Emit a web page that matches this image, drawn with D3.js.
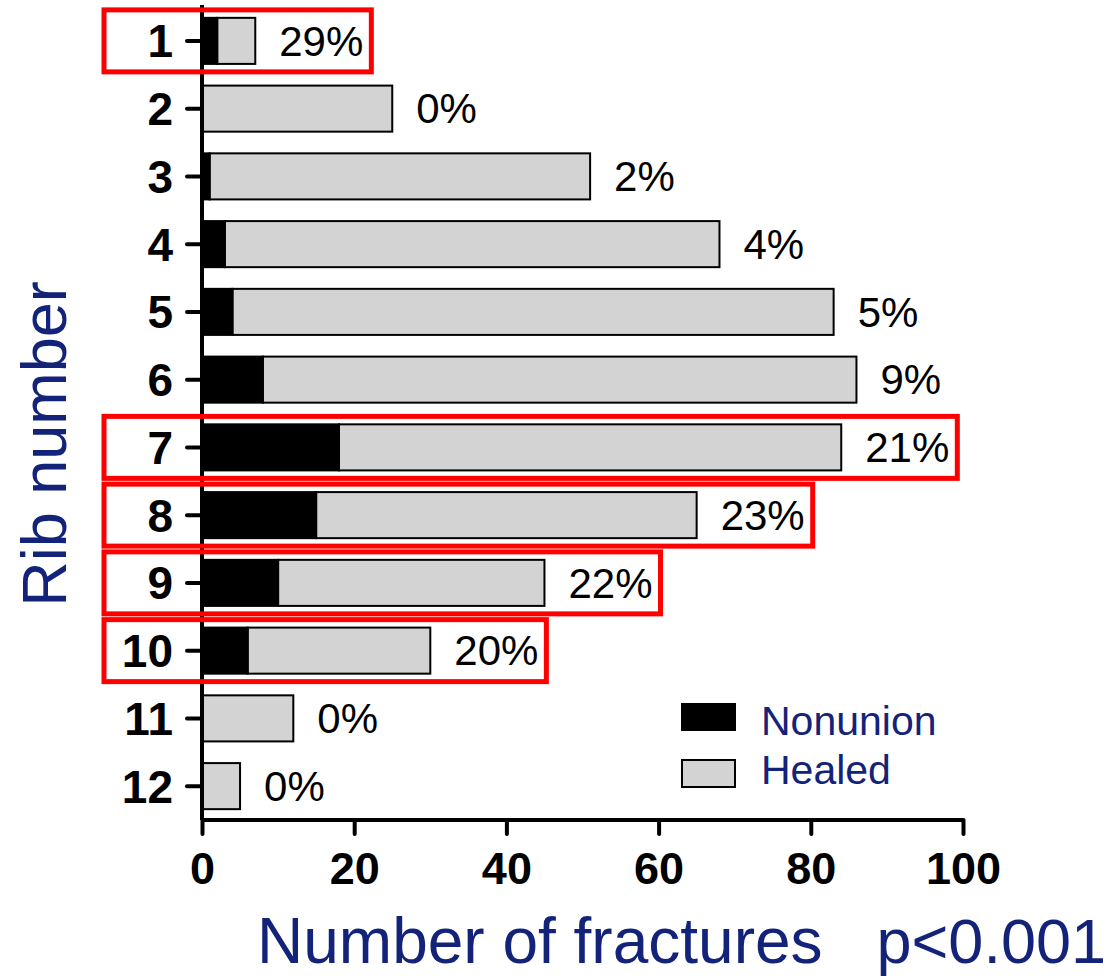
<!DOCTYPE html>
<html>
<head>
<meta charset="utf-8">
<script src="https://cdn.jsdelivr.net/npm/d3@7"></script>
<style>
  body { margin: 0; background: #fff; }
  svg { display: block; font-family: Arial, "Liberation Sans", sans-serif; }
</style>
</head>
<body>
<div id="chart"></div>
<script>
// rib numbers, nonunion count, total fractures, label text
const ribs = ["1", "2", "3", "4", "5", "6", "7", "8", "9", "10", "11", "12"];
const nonunion = [2, 0, 1, 3, 4, 8, 18, 15, 10, 6, 0, 0];
const totals = [7, 25, 51, 68, 83, 86, 84, 65, 45, 30, 12, 5];
const pctLabels = ["29%", "0%", "2%", "4%", "5%", "9%", "21%", "23%", "22%", "20%", "0%", "0%"];
const xTicks = [0, 20, 40, 60, 80, 100];
const highlighted = ["1", "7", "8", "9", "10"];

const width = 1109;
const height = 978;
const navy = "#14237a";

const rows = ribs.map((rib, i) => ({
  rib,
  nonunion: nonunion[i],
  total: totals[i],
  label: pctLabels[i],
}));

const svg = d3
  .select("#chart")
  .append("svg")
  .attr("width", width)
  .attr("height", height);

const x = d3.scaleLinear().domain([0, 100]).range([202, 963]);
const y = d3
  .scaleBand()
  .domain(ribs)
  .range([7, 820])
  .paddingInner(0.32)
  .paddingOuter(0.16);

// bars
const bars = svg.append("g");

bars
  .selectAll("rect.healed")
  .data(rows)
  .enter()
  .append("rect")
  .attr("class", "healed")
  .attr("x", (d) => x(d.nonunion))
  .attr("y", (d) => y(d.rib))
  .attr("width", (d) => x(d.total) - x(d.nonunion))
  .attr("height", y.bandwidth())
  .attr("fill", "#d3d3d3")
  .attr("stroke", "#000")
  .attr("stroke-width", 2);

bars
  .selectAll("rect.nonunion")
  .data(rows.filter((d) => d.nonunion > 0))
  .enter()
  .append("rect")
  .attr("class", "nonunion")
  .attr("x", x(0))
  .attr("y", (d) => y(d.rib) - 1)
  .attr("width", (d) => x(d.nonunion) - x(0) + 1)
  .attr("height", y.bandwidth() + 2)
  .attr("fill", "#000");

// percent labels
const labels = svg
  .append("g")
  .selectAll("text")
  .data(rows)
  .enter()
  .append("text")
  .attr("x", (d) => x(d.total) + 24)
  .attr("y", (d) => y(d.rib) + y.bandwidth() / 2)
  .attr("dy", "0.35em")
  .style("font-size", "42px")
  .style("fill", "#000")
  .text((d) => d.label);

// axes
const yAxis = svg
  .append("g")
  .attr("transform", `translate(${x(0)},0)`)
  .call(d3.axisLeft(y).tickSize(15).tickPadding(14));
yAxis.select(".domain").attr("d", `M0,5V820`).attr("stroke-width", 4);
yAxis.selectAll(".tick line").attr("stroke-width", 4).attr("stroke-linecap", "round");
yAxis
  .selectAll(".tick text")
  .style("font-size", "46px")
  .style("font-weight", "bold")
  .style("fill", "#000")
  .attr("dy", "0.36em");

const xAxis = svg
  .append("g")
  .attr("transform", "translate(0,820)")
  .call(d3.axisBottom(x).tickValues(xTicks).tickSize(14).tickPadding(18));
xAxis.select(".domain").attr("d", `M${x(0)},0H${x(100)}`).attr("stroke-width", 4);
xAxis.selectAll(".tick line").attr("stroke-width", 4).attr("stroke-linecap", "round");
xAxis
  .selectAll(".tick text")
  .style("font-size", "45px")
  .style("font-weight", "bold")
  .style("fill", "#000");

// red highlight boxes
const boxLeft = 104;
labels.each(function (d) {
  if (!highlighted.includes(d.rib)) return;
  const bb = this.getBBox();
  const cy = y(d.rib) + y.bandwidth() / 2;
  svg
    .append("rect")
    .attr("x", boxLeft)
    .attr("y", cy - 31)
    .attr("width", bb.x + bb.width + 8 - boxLeft)
    .attr("height", 62)
    .attr("fill", "none")
    .attr("stroke", "#ff0000")
    .attr("stroke-width", 5);
});

// legend
const legend = svg.append("g");
legend
  .append("rect")
  .attr("x", 681)
  .attr("y", 703)
  .attr("width", 55)
  .attr("height", 28)
  .attr("fill", "#000");
legend
  .append("rect")
  .attr("x", 682)
  .attr("y", 760)
  .attr("width", 53)
  .attr("height", 27)
  .attr("fill", "#d3d3d3")
  .attr("stroke", "#000")
  .attr("stroke-width", 2);
legend
  .append("text")
  .attr("x", 761)
  .attr("y", 735)
  .style("font-size", "41px")
  .style("fill", navy)
  .text("Nonunion");
legend
  .append("text")
  .attr("x", 761)
  .attr("y", 784)
  .style("font-size", "41px")
  .style("fill", navy)
  .text("Healed");

// axis titles
svg
  .append("text")
  .attr("transform", "translate(66,444) rotate(-90)")
  .attr("text-anchor", "middle")
  .style("font-size", "63px")
  .style("fill", navy)
  .text("Rib number");

svg
  .append("text")
  .attr("x", 257)
  .attr("y", 963)
  .style("font-size", "64px")
  .style("fill", navy)
  .text("Number of fractures");

svg
  .append("text")
  .attr("x", 1106)
  .attr("y", 963)
  .attr("text-anchor", "end")
  .style("font-size", "63px")
  .style("fill", navy)
  .text("p<0.001");
</script>
</body>
</html>
